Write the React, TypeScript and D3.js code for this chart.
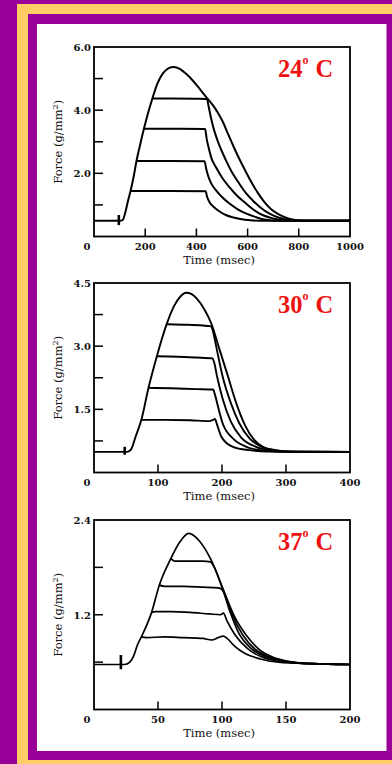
import React from 'react';
import * as d3 from 'd3';

type Pt = [number, number];

// ---- 24 °C twitch-to-tetanus force records (time ms, force g/mm²) ----
const tetanus24: Pt[] = [
  [0, 0.5], [100, 0.5], [112, 0.52], [122, 0.75], [132, 1.1], [143, 1.45], [155, 1.9], [166, 2.39],
  [180, 2.9], [195, 3.41], [211, 3.9], [228, 4.37], [248, 4.85], [270, 5.17], [292, 5.33], [312, 5.37],
  [335, 5.31], [360, 5.15], [390, 4.9], [415, 4.65], [440, 4.4], [465, 4.15], [485, 3.9], [505, 3.6],
  [525, 3.22], [545, 2.85], [565, 2.5], [590, 2.1], [615, 1.72], [640, 1.38], [665, 1.1], [690, 0.88],
  [715, 0.73], [745, 0.61], [780, 0.53], [820, 0.5], [1000, 0.5],
];
const step24a: Pt[] = [
  [228, 4.37], [300, 4.37], [400, 4.36], [441, 4.35], [447, 4.15], [456, 3.79], [468, 3.4], [482, 3.05],
  [515, 2.42], [540, 2.02], [567, 1.68], [593, 1.38], [619, 1.15], [650, 0.92], [684, 0.73], [720, 0.6],
  [761, 0.52], [800, 0.5], [1000, 0.5],
];
const step24b: Pt[] = [
  [195, 3.41], [300, 3.41], [434, 3.4], [440, 3.1], [447, 2.84], [460, 2.45], [476, 2.2], [500, 1.87],
  [528, 1.57], [560, 1.28], [593, 1.05], [625, 0.84], [658, 0.68], [700, 0.57], [740, 0.51], [1000, 0.5],
];
const step24c: Pt[] = [
  [166, 2.39], [300, 2.39], [432, 2.38], [438, 2.15], [447, 1.89], [460, 1.65], [476, 1.47], [500, 1.25],
  [528, 1.05], [560, 0.87], [593, 0.73], [630, 0.62], [671, 0.53], [720, 0.5], [1000, 0.5],
];
const step24d: Pt[] = [
  [143, 1.44], [300, 1.44], [436, 1.43], [442, 1.25], [452, 1.08], [470, 0.92], [489, 0.8], [515, 0.68],
  [545, 0.6], [590, 0.53], [650, 0.5], [1000, 0.5],
];
const stim24: Pt = [97, 0.36];
const stimTop24 = 0.68;
const xTicks24 = [200, 400, 600, 800];
const xLabels24 = [0, 200, 400, 600, 800, 1000];
const yTicks24 = [1, 2, 3, 4, 5];
const yLabels24 = [2, 4, 6];

// ---- 30 °C ----
const tetanus30: Pt[] = [
  [0, 0.49], [52, 0.49], [58, 0.55], [65, 0.85], [74, 1.25], [85, 2.0], [98, 2.75], [113, 3.5],
  [125, 3.95], [135, 4.18], [144, 4.27], [152, 4.24], [160, 4.14], [173, 3.86], [183, 3.55], [196, 2.93],
  [209, 2.3], [222, 1.66], [236, 1.12], [250, 0.78], [265, 0.6], [284, 0.53], [305, 0.5], [400, 0.49],
];
const step30a: Pt[] = [
  [113, 3.52], [140, 3.51], [170, 3.49], [183, 3.47], [186, 3.35], [191, 2.99], [201, 2.28], [214, 1.64],
  [227, 1.17], [243, 0.81], [264, 0.6], [290, 0.51], [320, 0.49], [400, 0.49],
];
const step30b: Pt[] = [
  [98, 2.76], [130, 2.75], [160, 2.73], [185, 2.71], [188, 2.6], [192, 2.3], [201, 1.75], [214, 1.2],
  [230, 0.83], [253, 0.61], [279, 0.52], [310, 0.49], [400, 0.49],
];
const step30c: Pt[] = [
  [85, 2.01], [120, 2.0], [160, 1.98], [186, 1.97], [189, 1.85], [194, 1.55], [201, 1.17], [217, 0.81],
  [238, 0.61], [264, 0.52], [300, 0.49], [400, 0.49],
];
const step30d: Pt[] = [
  [74, 1.25], [110, 1.25], [150, 1.24], [180, 1.22], [186, 1.25], [189, 1.27], [192, 1.15], [199, 0.85],
  [217, 0.61], [243, 0.53], [270, 0.5], [400, 0.49],
];
const stim30: Pt = [48, 0.42];
const stimTop30 = 0.61;
const xTicks30 = [100, 200, 300];
const xLabels30 = [0, 100, 200, 300, 400];
const yTicks30 = [0.75, 1.5, 2.25, 3.0, 3.75];
const yLabels30 = [1.5, 3.0, 4.5];

// ---- 37 °C ----
const tetanus37: Pt[] = [
  [0, 0.57], [24, 0.57], [28, 0.6], [31, 0.68], [34, 0.82], [37, 0.92], [45, 1.23], [51, 1.575],
  [60, 1.91], [67, 2.12], [74, 2.23], [82, 2.14], [91, 1.91], [101, 1.52], [110, 1.17], [119, 0.94],
  [129, 0.76], [140, 0.66], [152, 0.61], [170, 0.58], [200, 0.57],
];
const step37a: Pt[] = [
  [60, 1.91], [63, 1.88], [75, 1.88], [85, 1.88], [91, 1.87], [94, 1.8], [100, 1.55], [108, 1.2],
  [116, 0.95], [126, 0.76], [138, 0.66], [150, 0.61], [170, 0.58], [200, 0.57],
];
const step37b: Pt[] = [
  [51, 1.575], [55, 1.56], [70, 1.56], [85, 1.55], [97, 1.54], [100, 1.52], [106, 1.25], [113, 0.97],
  [123, 0.77], [135, 0.66], [148, 0.61], [170, 0.58], [200, 0.57],
];
const step37c: Pt[] = [
  [45, 1.23], [48, 1.24], [60, 1.24], [75, 1.23], [90, 1.21], [99, 1.2], [101, 1.22], [104, 1.12],
  [110, 0.95], [120, 0.77], [132, 0.66], [146, 0.61], [170, 0.58], [200, 0.57],
];
const step37d: Pt[] = [
  [37, 0.92], [41, 0.91], [55, 0.92], [70, 0.91], [85, 0.9], [92, 0.88], [97, 0.91], [101, 0.93],
  [104, 0.9], [110, 0.8], [118, 0.71], [130, 0.64], [144, 0.6], [170, 0.58], [200, 0.57],
];
const stim37: Pt = [21, 0.51];
const stimTop37 = 0.69;
const xTicks37 = [50, 100, 150];
const xLabels37 = [0, 50, 100, 150, 200];
const yTicks37 = [0.6, 1.2, 1.8];
const yLabels37 = [1.2, 2.4];

const temps = ['24', '30', '37'];

const panels = [
  {
    temp: temps[0], xMax: 1000, yMax: 6, curves: [tetanus24, step24a, step24b, step24c, step24d],
    stim: stim24, stimTop: stimTop24, xTicks: xTicks24, xLabels: xLabels24, yTicks: yTicks24, yLabels: yLabels24,
  },
  {
    temp: temps[1], xMax: 400, yMax: 4.5, curves: [tetanus30, step30a, step30b, step30c, step30d],
    stim: stim30, stimTop: stimTop30, xTicks: xTicks30, xLabels: xLabels30, yTicks: yTicks30, yLabels: yLabels30,
  },
  {
    temp: temps[2], xMax: 200, yMax: 2.4, curves: [tetanus37, step37a, step37b, step37c, step37d],
    stim: stim37, stimTop: stimTop37, xTicks: xTicks37, xLabels: xLabels37, yTicks: yTicks37, yLabels: yLabels37,
  },
];

const W = 392;
const H = 764;
const PURPLE = '#990099';
const GOLD = '#ffcc66';
const RED = '#ee1111';
const FONT = '"DejaVu Serif", serif';
const TITLE_FONT = '"Liberation Serif", "Times New Roman", serif';

const plotLeft = 94;
const plotRight = 350;
const plotTops = [47, 283, 520];
const plotH = 189.5;
const lineWidths = [2, 1.9, 1.7];
const xTitleOffset = 27;
const tickLabelOffset = 13;

const fmtY = d3.format('.1f');

function Panel({ p, idx }: { p: typeof panels[number]; idx: number }) {
  const top = plotTops[idx];
  const bottom = top + plotH;
  const x = d3.scaleLinear().domain([0, p.xMax]).range([plotLeft, plotRight]);
  const y = d3.scaleLinear().domain([0, p.yMax]).range([bottom, top]);
  const line = d3
    .line<Pt>()
    .x((d) => x(d[0]))
    .y((d) => y(d[1]))
    .curve(d3.curveMonotoneX);
  const sw = lineWidths[idx];
  const midX = (plotLeft + plotRight) / 2 - 3;
  const midY = (top + bottom) / 2;

  return (
    <g>
      {/* traces */}
      {p.curves.map((c, i) => (
        <path key={i} d={line(c) ?? ''} fill="none" stroke="#000" strokeWidth={sw} strokeLinejoin="round" />
      ))}
      {/* stimulus artifact */}
      <line
        x1={x(p.stim[0])}
        x2={x(p.stim[0])}
        y1={y(p.stim[1])}
        y2={y(p.stimTop)}
        stroke="#000"
        strokeWidth={2.6}
      />
      {/* frame */}
      <rect x={plotLeft} y={top} width={plotRight - plotLeft} height={plotH} fill="none" stroke="#000" strokeWidth={1.8} />
      {/* inward ticks */}
      {p.yTicks.map((t) => (
        <line key={'yt' + t} x1={plotLeft} x2={plotLeft + 9} y1={y(t)} y2={y(t)} stroke="#000" strokeWidth={1.5} />
      ))}
      {p.xTicks.map((t) => (
        <line key={'xt' + t} x1={x(t)} x2={x(t)} y1={bottom} y2={bottom - 8} stroke="#000" strokeWidth={1.5} />
      ))}
      {/* tick labels */}
      {p.yLabels.map((t) => (
        <text
          key={'yl' + t}
          x={plotLeft - 3}
          y={y(t) + 4}
          textAnchor="end"
          fontFamily={FONT}
          fontWeight="bold"
          fontSize={10}
          fill="#111"
        >
          {fmtY(t)}
        </text>
      ))}
      {p.xLabels.map((t) => (
        <text
          key={'xl' + t}
          x={t === 0 ? x(t) - 7 : x(t)}
          y={bottom + tickLabelOffset}
          textAnchor="middle"
          fontFamily={FONT}
          fontWeight="bold"
          fontSize={10}
          fill="#111"
        >
          {t}
        </text>
      ))}
      {/* axis titles */}
      <text x={midX} y={bottom + xTitleOffset} textAnchor="middle" fontFamily={FONT} fontSize={11.5} fill="#111">
        Time (msec)
      </text>
      <text
        transform={`translate(62,${midY}) rotate(-90)`}
        textAnchor="middle"
        fontFamily={FONT}
        fontSize={11.5}
        fill="#111"
      >
        Force (g/mm
        <tspan dy={-4} fontSize={8}>2</tspan>
        <tspan dy={4}>)</tspan>
      </text>
      {/* temperature */}
      <text x={278} y={top + 29.5} fontFamily={TITLE_FONT} fontWeight="bold" fontSize={24.5} fill={RED}>
        {p.temp}
        <tspan dy={-13} fontSize={12}>o</tspan>
        <tspan dy={13} dx={7}>C</tspan>
      </text>
    </g>
  );
}

export default function App() {
  return (
    <svg
      width={W}
      height={H}
      viewBox={`0 0 ${W} ${H}`}
      style={{ position: 'absolute', left: 0, top: 0, display: 'block' }}
    >
      <rect x={0} y={0} width={W} height={H} fill={PURPLE} />
      <rect x={17} y={4} width={W - 17} height={H - 4} fill={GOLD} />
      <rect x={28} y={14} width={W - 28} height={746} fill={PURPLE} />
      <rect x={37} y={24} width={349.5} height={727} fill="#fff" />
      {panels.map((p, i) => (
        <Panel key={p.temp} p={p} idx={i} />
      ))}
    </svg>
  );
}
